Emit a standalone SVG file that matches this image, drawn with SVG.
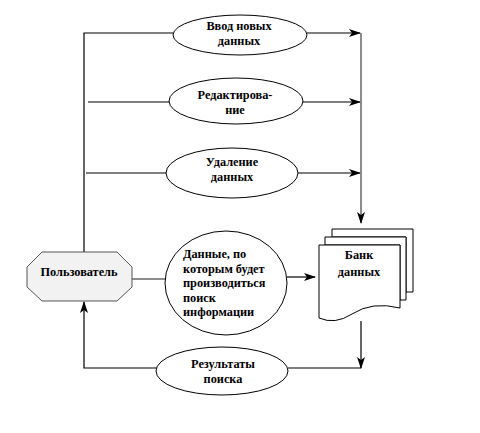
<svg xmlns="http://www.w3.org/2000/svg" width="480" height="433" viewBox="0 0 480 433">
<defs>
<marker id="ah" viewBox="0 0 12 8" refX="11" refY="4" markerWidth="12" markerHeight="8" markerUnits="userSpaceOnUse" orient="auto">
<path d="M0,0 L12,4 L0,8 L3,4 Z" fill="#000"/>
</marker>
<style>
.ln{fill:none;stroke:#000;stroke-width:1.2}
.gl{fill:none;stroke:#666;stroke-width:1.5}
.sh{fill:#fff;stroke:#000;stroke-width:1}
text{font-family:'Liberation Serif','Times New Roman',serif;font-weight:bold;font-size:12.3px;fill:#000;text-anchor:middle}
text.tl{text-anchor:start}
</style>
</defs>
<rect width="480" height="433" fill="#fff"/>
<g id="connectors">
<path class="ln" d="M84,252 V33 H173"/>
<path class="ln" d="M307,33 H360" marker-end="url(#ah)"/>
<path class="ln" d="M88,102 H169"/>
<path class="ln" d="M302,102 H360" marker-end="url(#ah)"/>
<path class="ln" d="M86,173 H166"/>
<path class="ln" d="M298,173 H360" marker-end="url(#ah)"/>
<path class="gl" d="M361,33 V223" marker-end="url(#ah)"/>
<path class="gl" d="M132,279 H165"/>
<path class="ln" d="M287,277 H315" marker-end="url(#ah)"/>
<path class="ln" d="M361,321 V368" marker-end="url(#ah)"/>
<path class="ln" d="M361,368 H288"/>
<path class="ln" d="M157,368 H84 V302" marker-end="url(#ah)"/>
</g>
<g id="n-input">
<ellipse class="sh" cx="240" cy="35" rx="67" ry="20"/>
<text x="239" y="30">Ввод новых</text>
<text x="239" y="45">данных</text>
</g>
<g id="n-edit">
<ellipse class="sh" cx="236" cy="101" rx="67" ry="23"/>
<text x="235" y="99">Редактирова-</text>
<text x="235" y="114">ние</text>
</g>
<g id="n-delete">
<ellipse class="sh" cx="232" cy="173" rx="66" ry="25"/>
<text x="232" y="166">Удаление</text>
<text x="232" y="181">данных</text>
</g>
<g id="n-user">
<polygon points="42,252 117,252 132,267 132,287 117,301 42,301 27,287 27,267" fill="#f2f2f2" stroke="#555" stroke-width="1"/>
<text x="79" y="276">Пользователь</text>
</g>
<g id="n-query">
<ellipse class="sh" cx="226" cy="283" rx="61" ry="52"/>
<text class="tl" x="183" y="258">Данные, по</text>
<text class="tl" x="183" y="272.5">которым будет</text>
<text class="tl" x="183" y="287">производиться</text>
<text class="tl" x="183" y="301.5">поиск</text>
<text class="tl" x="183" y="316">информации</text>
</g>
<g id="n-bank">
<path class="sh" d="M332,229 H413 V292 H406 V237 H332 Z"/>
<path class="sh" d="M325,237 H406 V300 H400 V245 H325 Z"/>
<path class="sh" d="M319,245 H400 V308 Q372,301 352,314 Q335,325 319,318 Z"/>
<text x="359" y="259">Банк</text>
<text x="359" y="276">данных</text>
</g>
<g id="n-result">
<ellipse class="sh" cx="222" cy="371" rx="66" ry="24"/>
<text x="223" y="368">Результаты</text>
<text x="223" y="383">поиска</text>
</g>
</svg>
